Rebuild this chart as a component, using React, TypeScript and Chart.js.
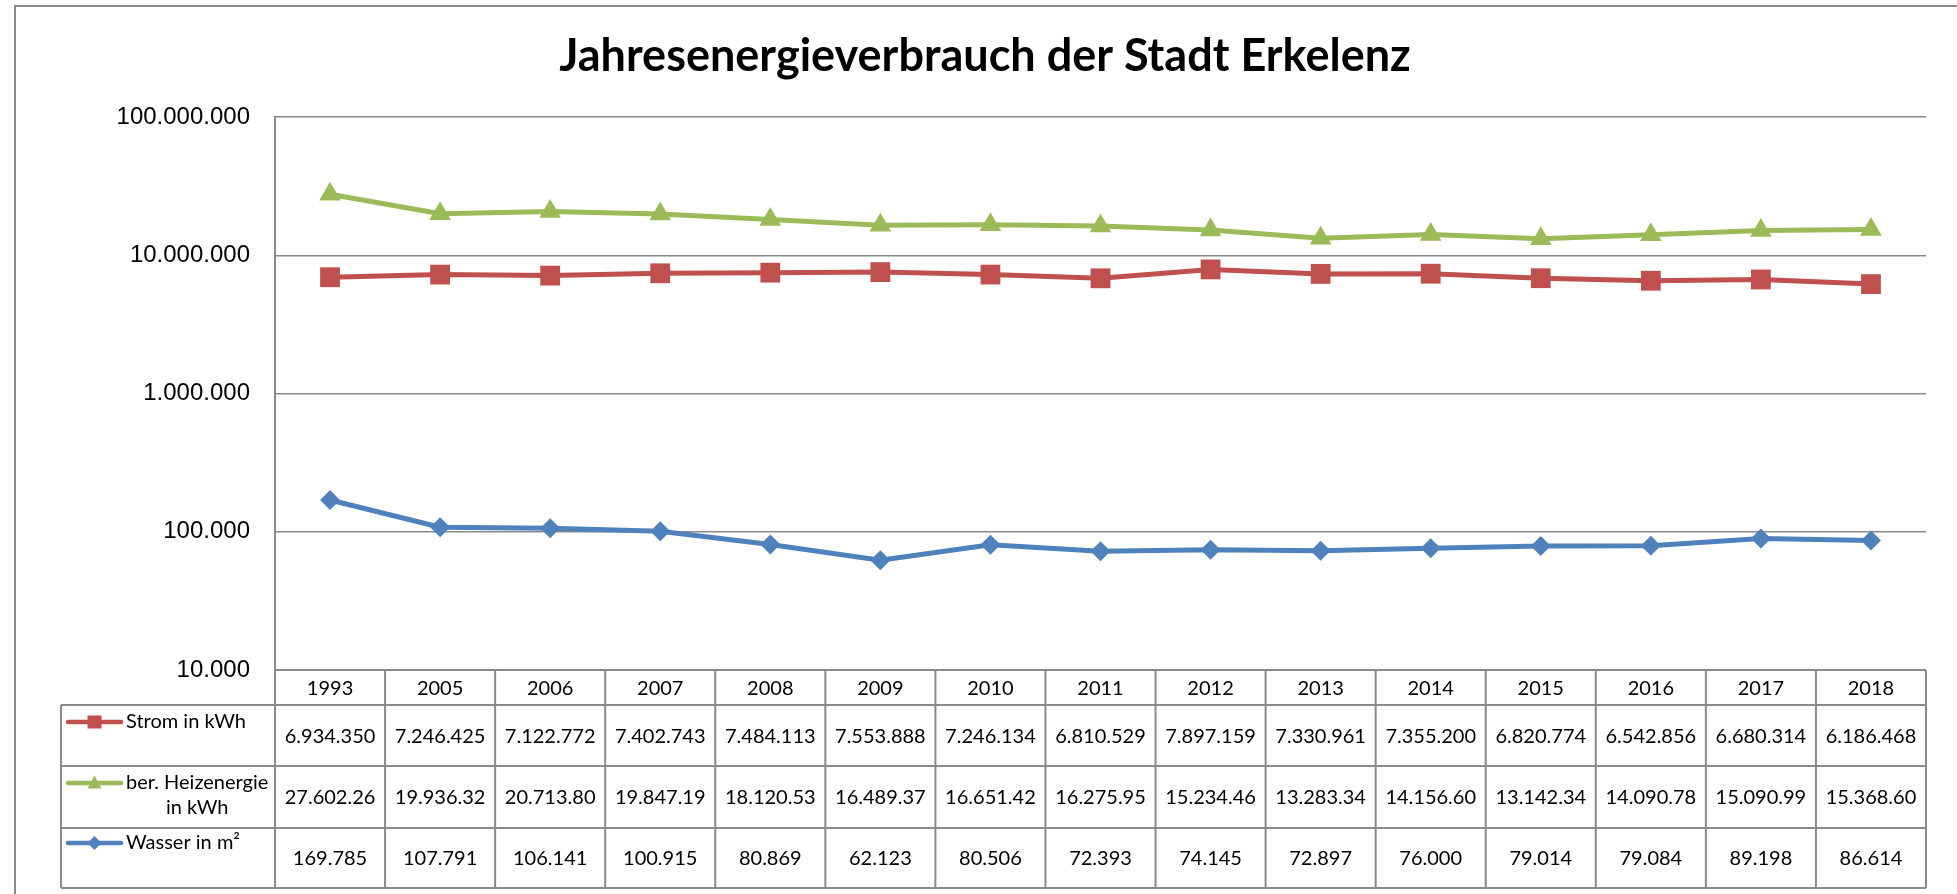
import React, { useEffect, useRef } from 'react';
import { Chart, registerables } from 'chart.js';

Chart.register(...registerables);

const title = 'Jahresenergieverbrauch der Stadt Erkelenz';
const years = ['1993', '2005', '2006', '2007', '2008', '2009', '2010', '2011', '2012', '2013', '2014', '2015', '2016', '2017', '2018'];
const strom = [6934350, 7246425, 7122772, 7402743, 7484113, 7553888, 7246134, 6810529, 7897159, 7330961, 7355200, 6820774, 6542856, 6680314, 6186468];
const heizenergie = [27602260, 19936320, 20713800, 19847190, 18120530, 16489370, 16651420, 16275950, 15234460, 13283340, 14156600, 13142340, 14090780, 15090990, 15368600];
const wasser = [169785, 107791, 106141, 100915, 80869, 62123, 80506, 72393, 74145, 72897, 76000, 79014, 79084, 89198, 86614];
const yTicks = [10000, 100000, 1000000, 10000000, 100000000];
const seriesNames = ['Strom in kWh', 'ber. Heizenergie in kWh', 'Wasser in m²'];
const seriesLabelLines = [['Strom in kWh'], ['ber. Heizenergie', 'in kWh'], ['Wasser in m²']];
const colors = ['#C0504D', '#9BBB59', '#4F81BD'];
const markerStyles = ['rect', 'triangle', 'rectRot'];

const W = 1957;
const H = 894;
const GRID = '#8a8a8a';

const fmt = (v: number) => String(Math.round(v)).replace(/\B(?=(\d{3})+(?!\d))/g, '.');
// the table cells of the heating row are too narrow in the original and cut the last digit
const heizCell = (v: number) => fmt(v).slice(0, 9);

const framePlugin = {
  id: 'frame',
  beforeDraw(chart: any) {
    const ctx = chart.ctx;
    ctx.save();
    ctx.fillStyle = '#ffffff';
    ctx.fillRect(0, 0, chart.width, chart.height);
    ctx.strokeStyle = GRID;
    ctx.lineWidth = 2;
    ctx.beginPath();
    ctx.moveTo(15, H + 2);
    ctx.lineTo(15, 6);
    ctx.lineTo(W + 2, 6);
    ctx.stroke();
    ctx.fillStyle = '#000';
    ctx.font = 'bold 45px Lato, "Open Sans", sans-serif';
    ctx.textAlign = 'center';
    ctx.textBaseline = 'alphabetic';
    ctx.fillText(title, 985, 71);
    ctx.restore();
  },
};

function drawMarker(ctx: CanvasRenderingContext2D, style: string, x: number, y: number, color: string) {
  ctx.fillStyle = color;
  ctx.beginPath();
  if (style === 'rect') {
    ctx.rect(x - 7, y - 6.5, 14, 13);
  } else if (style === 'triangle') {
    ctx.moveTo(x, y - 7.5);
    ctx.lineTo(x + 7, y + 5.5);
    ctx.lineTo(x - 7, y + 5.5);
    ctx.closePath();
  } else {
    ctx.moveTo(x, y - 7);
    ctx.lineTo(x + 7, y);
    ctx.lineTo(x, y + 7);
    ctx.lineTo(x - 7, y);
    ctx.closePath();
  }
  ctx.fill();
}

const tablePlugin = {
  id: 'dataTable',
  afterDraw(chart: any) {
    const ctx: CanvasRenderingContext2D = chart.ctx;
    const xs = chart.scales.x;
    const area = chart.chartArea;
    const n = years.length;
    const colW = (area.right - area.left) / n;
    const top = area.bottom;
    const rowY = [top, top + 35, top + 96, top + 158, top + 218];
    const legLeft = 61;
    const rows = [strom.map(fmt), heizenergie.map(heizCell), wasser.map(fmt)];

    ctx.save();
    ctx.strokeStyle = GRID;
    ctx.lineWidth = 2;
    ctx.beginPath();
    ctx.moveTo(area.left, rowY[0]);
    ctx.lineTo(area.right, rowY[0]);
    for (let r = 1; r < rowY.length; r++) {
      ctx.moveTo(legLeft, rowY[r]);
      ctx.lineTo(area.right, rowY[r]);
    }
    ctx.moveTo(legLeft, rowY[1]);
    ctx.lineTo(legLeft, rowY[4]);
    for (let i = 0; i <= n; i++) {
      const x = i < n ? xs.getPixelForValue(i) - colW / 2 : area.right;
      ctx.moveTo(x, rowY[0]);
      ctx.lineTo(x, rowY[4]);
    }
    ctx.stroke();

    ctx.fillStyle = '#000';
    ctx.textAlign = 'center';
    ctx.textBaseline = 'middle';
    ctx.font = '20px Lato, "Open Sans", sans-serif';
    years.forEach((y, i) => {
      ctx.fillText(y, xs.getPixelForValue(i), (rowY[0] + rowY[1]) / 2 + 1);
    });
    rows.forEach((vals, r) => {
      const cy = (rowY[r + 1] + rowY[r + 2]) / 2 + 1;
      vals.forEach((t, i) => ctx.fillText(t, xs.getPixelForValue(i), cy));
    });

    // legend keys and row labels
    const keyY = [rowY[1] + 17, rowY[2] + 17, rowY[3] + 15];
    ctx.font = '20px Lato, "Open Sans", sans-serif';
    seriesLabelLines.forEach((lines, r) => {
      const y = keyY[r];
      ctx.strokeStyle = colors[r];
      ctx.lineWidth = 4.5;
      ctx.lineCap = 'round';
      ctx.beginPath();
      ctx.moveTo(68, y);
      ctx.lineTo(121, y);
      ctx.stroke();
      drawMarker(ctx, markerStyles[r], 94.5, y, colors[r]);
      ctx.fillStyle = '#000';
      const tx = 126;
      const w0 = ctx.measureText(lines[0]).width;
      lines.forEach((line, k) => {
        if (k === 0) {
          ctx.textAlign = 'left';
          ctx.fillText(line, tx, y);
        } else {
          ctx.textAlign = 'center';
          ctx.fillText(line, tx + w0 / 2, y + 25 * k);
        }
      });
    });
    ctx.restore();
  },
};

export default function App() {
  const ref = useRef<HTMLCanvasElement | null>(null);

  useEffect(() => {
    if (!ref.current) return;
    const data = [strom, heizenergie, wasser];
    const radii = [14, 12.5, 10];
    const chart = new Chart(ref.current, {
      type: 'line',
      data: {
        labels: years,
        datasets: data.map((d, i) => ({
          label: seriesNames[i],
          data: d,
          borderColor: colors[i],
          backgroundColor: colors[i],
          borderWidth: 5,
          pointStyle: markerStyles[i] as any,
          pointRadius: radii[i],
          pointHoverRadius: radii[i],
          pointBackgroundColor: colors[i],
          pointBorderColor: colors[i],
          pointBorderWidth: 0,
          tension: 0,
          fill: false,
        })),
      },
      options: {
        animation: false,
        responsive: true,
        maintainAspectRatio: false,
        layout: { padding: { top: 117, right: 31, left: 0, bottom: 0 } },
        plugins: {
          legend: { display: false },
          title: { display: false },
          tooltip: { enabled: false },
        },
        scales: {
          x: {
            type: 'category',
            offset: true,
            grid: { display: false },
            border: { display: false },
            ticks: { display: false },
            afterFit: (s: any) => {
              s.height = H - 670;
            },
          },
          y: {
            type: 'logarithmic',
            min: yTicks[0],
            max: yTicks[yTicks.length - 1],
            afterBuildTicks: (s: any) => {
              s.ticks = yTicks.map((v) => ({ value: v }));
            },
            afterFit: (s: any) => {
              s.width = 275;
            },
            grid: { color: GRID, lineWidth: 1.5, drawTicks: false },
            border: { display: true, color: GRID, width: 2 },
            ticks: {
              padding: 25,
              color: '#000',
              font: { family: '"Liberation Sans", Arial, sans-serif', size: 24 },
              callback: (v: any) => fmt(Number(v)),
            },
          },
        },
      },
      plugins: [framePlugin, tablePlugin],
    });
    return () => chart.destroy();
  }, []);

  return (
    <div style={{ position: 'fixed', left: 0, top: 0, width: W, height: H, background: '#fff' }}>
      <canvas ref={ref} />
    </div>
  );
}
